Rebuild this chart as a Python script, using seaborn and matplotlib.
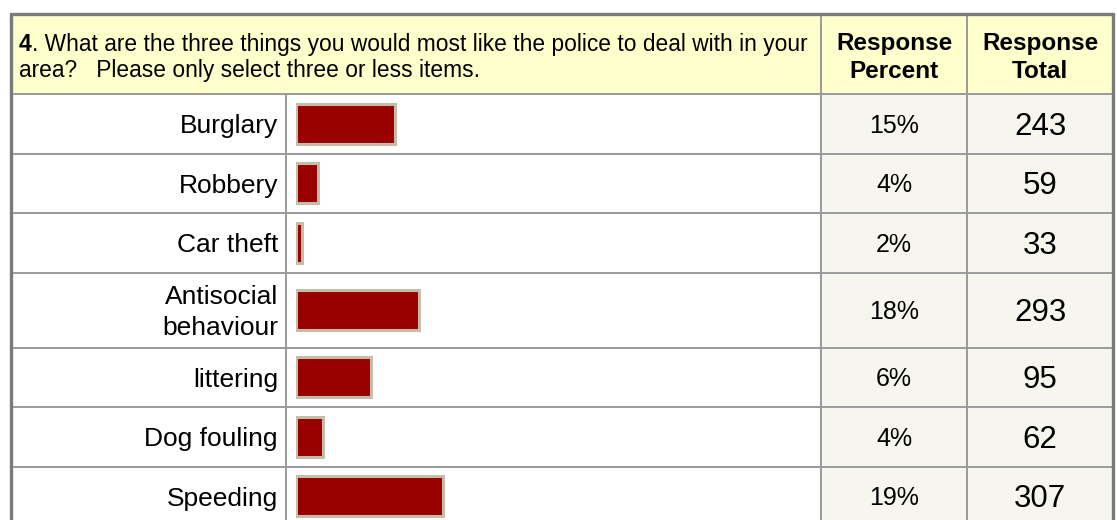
"""Survey question 4 -- what residents want the police to deal with.
Table-style bar chart: label | bar | response percent | response total."""
import matplotlib
matplotlib.use("Agg")
import matplotlib.pyplot as plt
import seaborn as sns
from matplotlib.patches import Rectangle

items = ["Burglary", "Robbery", "Car theft", "Antisocial\nbehaviour",
         "littering", "Dog fouling", "Speeding"]
pct = [15, 4, 2, 18, 6, 4, 19]
totals = [243, 59, 33, 293, 95, 62, 307]
# bar lengths as drawn in the screenshot (px); they don't follow pct exactly
bar_len = [99, 22, 6, 123, 75, 27, 147]
q_num = "4"
q_line1 = ". What are the three things you would most like the police to deal with in your"
q_line2 = "area?   Please only select three or less items."
col_heads = ["Response\nPercent", "Response\nTotal"]

sns.set_style("white")
plt.rcParams["font.family"] = ["Liberation Sans", "DejaVu Sans"]
plt.rcParams["text.color"] = "black"

W, H = 1117, 520
LEFT, C1, C2, C3, RIGHT = 11, 286, 821, 967, 1113
TOP, HEAD_BOT = 14, 94
BAR_X0 = 296
GRID = "#9A9A9A"
PX = 100 / 72  # px per point at dpi 100

# row heights: two-line labels get a taller row
heights = [75 if "\n" in s else 59.5 for s in items]
edges = [HEAD_BOT]
for h in heights:
    edges.append(edges[-1] + h)
centers = [(a + b) / 2 for a, b in zip(edges[:-1], edges[1:])]

fig = plt.figure(figsize=(W / 100, H / 100), dpi=100)
ax = fig.add_axes([0, 0, 1, 1])
ax.set_xlim(0, W)
ax.set_ylim(H, 0)
ax.axis("off")

# backgrounds
ax.add_patch(Rectangle((LEFT, TOP), RIGHT - LEFT, HEAD_BOT - TOP, color="#FFFFCC", zorder=0))
ax.add_patch(Rectangle((C2, HEAD_BOT), RIGHT - C2, H - HEAD_BOT, color="#F6F5EE", zorder=0))

# grid
for y in edges:
    ax.plot([LEFT, RIGHT], [y, y], color=GRID, lw=1.4, zorder=1)
ax.plot([C1, C1], [HEAD_BOT, H], color=GRID, lw=1.4, zorder=1)
for x in (C2, C3):
    ax.plot([x, x], [TOP, H], color=GRID, lw=1.4, zorder=1)
# outer border
ax.plot([LEFT, LEFT], [TOP, H], color="#7A7A7A", lw=2.4, zorder=2)
ax.plot([RIGHT, RIGHT], [TOP, H], color="#7A7A7A", lw=2.4, zorder=2)
ax.plot([LEFT, RIGHT], [TOP, TOP], color="#7A7A7A", lw=2.4, zorder=2)


def put(x, yc, s, size, **kw):
    # place text so the cap height is centred on yc
    ax.text(x, yc + 0.716 * size * PX / 2, s, fontsize=size, va="baseline", **kw)


# header
t4 = ax.text(19, 51, q_num, fontsize=16.4, fontweight="bold", va="baseline")
ax.annotate(q_line1, xy=(1, 0), xycoords=t4, fontsize=16.4, va="bottom", ha="left")
ax.text(19, 77.5, q_line2, fontsize=16.4, va="baseline")
for xc, head in zip([(C2 + C3) / 2, (C3 + RIGHT) / 2], col_heads):
    l1, l2 = head.split("\n")
    ax.text(xc, 50, l1, fontsize=17.5, fontweight="bold", ha="center", va="baseline")
    ax.text(xc, 77.5, l2, fontsize=17.5, fontweight="bold", ha="center", va="baseline")

# rows
for yc, lab, p, t in zip(centers, items, pct, totals):
    lines = lab.split("\n")
    off = 15.5 * (len(lines) - 1)
    for i, ln in enumerate(lines):
        put(278, yc - off + 31 * i, ln, 19, ha="right")
    put((C2 + C3) / 2, yc, f"{p}%", 18, ha="center")
    put((C3 + RIGHT) / 2, yc, str(t), 22.5, ha="center")

# bars
bax = fig.add_axes([BAR_X0 / W, 0, (C2 - BAR_X0) / W, (H - HEAD_BOT) / H])
sns.barplot(x=bar_len, y=centers, orient="y", native_scale=True, width=40 / 59.5,
            color="#990000", saturation=1, edgecolor="#C4BDAA", linewidth=2.2, ax=bax)
bax.set_xlim(0, C2 - BAR_X0)
bax.set_ylim(H, HEAD_BOT)
bax.axis("off")
bax.patch.set_alpha(0)

fig.savefig("out.png", dpi=100)
